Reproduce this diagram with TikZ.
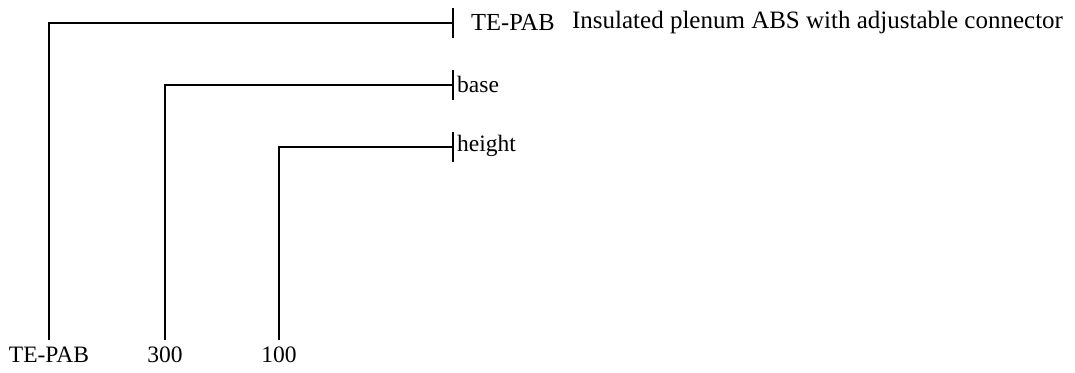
\documentclass[tikz,border=0pt]{standalone}
\usepackage{fontspec}
\setmainfont{Liberation Serif}
\usetikzlibrary{positioning}

\tikzset{
  lbl/.style={font=\fontsize{23.5}{27}\selectfont, inner sep=0pt},
  botlbl/.style={lbl, anchor=base, text height=15pt, inner sep=7pt},
  toplbl/.style={lbl, anchor=west},
  headlbl/.style={toplbl, font=\fontsize{24.5}{28}\selectfont},
  wire/.style={line width=2pt},
  tick/.style={line width=2pt}
}

\begin{document}
\begin{tikzpicture}[x=1pt, y=-1pt]
\useasboundingbox (0,0) rectangle (1075,372);

% ends at the bottom
\node (tepab) [botlbl] at (49,362) {TE-PAB};
\node (base300) [botlbl] at (165,362) {300};
\node (height100) [botlbl] at (279,362) {100};

% ends on the right
\coordinate (t1) at (453,23);
\coordinate (t2) at (453,85);
\coordinate (t3) at (453,147);

\node (name) [headlbl] at (471,22) {TE-PAB};
\node (desc) [headlbl, font=\fontsize{25}{28}\selectfont, right=17pt of name] {Insulated plenum ABS with adjustable connector};
\node (base) [toplbl] at (457,84) {base};
\node (height) [toplbl] at (457,146) {height};

\draw[wire] (tepab.north) |- (t1);
\draw[wire] (base300.north) |- (t2);
\draw[wire] (height100.north) |- (t3);

\draw[tick] ([yshift=-15pt]t1) -- ([yshift=15pt]t1);
\draw[tick] ([yshift=-15pt]t2) -- ([yshift=15pt]t2);
\draw[tick] ([yshift=-15pt]t3) -- ([yshift=15pt]t3);
\end{tikzpicture}
\end{document}
